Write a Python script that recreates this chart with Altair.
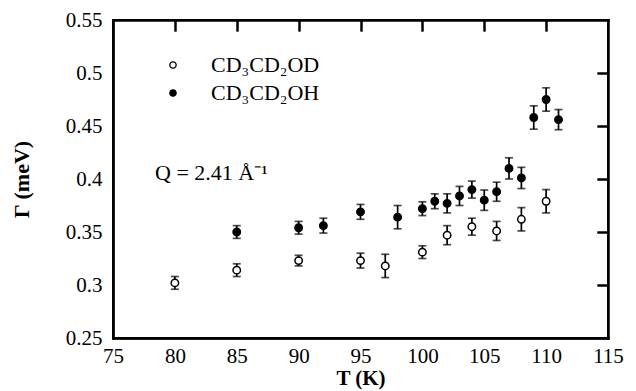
import altair as alt
import pandas as pd

# ---- data ----
series_names = ["CD₃CD₂OD", "CD₃CD₂OH"]

T_od = [80, 85, 90, 95, 97, 100, 102, 104, 106, 108, 110]
G_od = [0.302, 0.314, 0.323, 0.323, 0.318, 0.331, 0.347, 0.355, 0.351, 0.362, 0.379]
E_od = [0.006, 0.006, 0.005, 0.007, 0.011, 0.006, 0.009, 0.008, 0.009, 0.011, 0.011]

T_oh = [85, 90, 92, 95, 98, 100, 101, 102, 103, 104, 105, 106, 107, 108, 109, 110, 111]
G_oh = [0.350, 0.354, 0.356, 0.369, 0.364, 0.372, 0.379, 0.377, 0.384, 0.390,
        0.380, 0.388, 0.410, 0.401, 0.458, 0.475, 0.456]
E_oh = [0.006, 0.006, 0.007, 0.007, 0.011, 0.0065, 0.007, 0.009, 0.009, 0.008,
        0.0096, 0.009, 0.010, 0.010, 0.011, 0.011, 0.0095]

x_labels = [75, 80, 85, 90, 95, 100, 105, 110, 115]
y_labels = [0.25, 0.3, 0.35, 0.4, 0.45, 0.5, 0.55]
x_inner_ticks = [80, 85, 90, 95, 100, 105, 110]
y_inner_ticks = [0.3, 0.35, 0.4, 0.45, 0.5]
annotation = "Q = 2.41 Å⁻¹"

rows = []
for t, g, e in zip(T_od, G_od, E_od):
    rows.append({"T": t, "G": g, "lo": g - e, "hi": g + e, "series": series_names[0]})
for t, g, e in zip(T_oh, G_oh, E_oh):
    rows.append({"T": t, "G": g, "lo": g - e, "hi": g + e, "series": series_names[1]})
df = pd.DataFrame(rows)

W, H = 495, 318
x_ends = [x_labels[0], x_labels[-1]]
y_ends = [y_labels[0], y_labels[-1]]

FONT = "Liberation Serif"
xs = alt.Scale(domain=[75, 115], nice=False, zero=False)
ys = alt.Scale(domain=[0.25, 0.55], nice=False, zero=False)

base = alt.Chart(df)

errbars = base.mark_errorbar(ticks=True, size=8, thickness=1.7, color="black").encode(
    x=alt.X("T:Q", scale=xs, axis=alt.Axis(
        values=x_labels, title="T (K)", ticks=False, tickSize=0, grid=False,
        domain=True, domainColor="black", domainWidth=2,
        labelPadding=7, labelFontSize=21, titleFontSize=21, titleFontWeight="bold",
        titleY=40, titleBaseline="middle", labelFont=FONT, titleFont=FONT,
        labelColor="black", titleColor="black", labelFlush=False)),
    y=alt.Y("lo:Q", scale=ys, axis=alt.Axis(
        values=y_labels, format="~g", title="Γ (meV)", ticks=False, tickSize=0,
        grid=False, domain=True, domainColor="black", domainWidth=2,
        labelPadding=11, labelFontSize=21, titleFontSize=22,
        titleFontWeight="bold", titleX=-92, titleBaseline="middle", labelFont=FONT,
        titleFont=FONT, labelColor="black", titleColor="black", labelFlush=False)),
    y2="hi:Q",
)

points = base.mark_point(filled=True, shape="circle", size=55, stroke="black",
                         strokeWidth=1.5, opacity=1).encode(
    x=alt.X("T:Q", scale=xs, axis=None),
    y=alt.Y("G:Q", scale=ys, axis=None),
    fill=alt.Fill("series:N", scale=alt.Scale(domain=series_names, range=["white", "black"]),
                  legend=alt.Legend(title=None, orient="none", legendX=49, legendY=34,
                                    symbolSize=40, symbolStrokeColor="black",
                                    symbolStrokeWidth=1.3, labelFont=FONT, labelFontSize=22,
                                    labelColor="black",
                                    labelOffset=27, rowPadding=6, padding=0)),
)

tick_style = dict(labels=False, domain=False, grid=False, tickSize=11, tickWidth=2,
                  tickColor="black", offset=-11, title="")

inner_bl = base.mark_point(opacity=0).encode(
    x=alt.X("T:Q", scale=xs, axis=alt.Axis(values=x_inner_ticks, **tick_style)),
    y=alt.Y("G:Q", scale=ys, axis=alt.Axis(values=y_inner_ticks, **tick_style)),
)

inner_tr = base.mark_point(opacity=0).encode(
    x=alt.X("T:Q", scale=xs, axis=alt.Axis(orient="top", values=x_inner_ticks, **tick_style)),
    y=alt.Y("G:Q", scale=ys, axis=alt.Axis(orient="right", values=y_inner_ticks, **tick_style)),
)

# frame drawn with full-length axis ticks at the axis ends
frame = base.mark_point(opacity=0).encode(
    x=alt.X("T:Q", scale=xs, axis=alt.Axis(orient="top", values=x_ends, labels=False,
                                           domain=False, grid=False, tickSize=H, offset=-H,
                                           tickWidth=2.5, tickColor="black", tickCap="square",
                                           title="")),
    y=alt.Y("G:Q", scale=ys, axis=alt.Axis(orient="left", values=y_ends, labels=False,
                                           domain=False, grid=False, tickSize=W, offset=-W,
                                           tickWidth=2.5, tickColor="black", tickCap="square",
                                           title="")),
)

note = alt.Chart(pd.DataFrame({"txt": [annotation]})).mark_text(
    align="left", baseline="middle", font=FONT, fontSize=22, color="black"
).encode(x=alt.value(42), y=alt.value(153), text="txt:N")

chart = (
    alt.layer(errbars, points, inner_bl, inner_tr, frame, note)
    .resolve_axis(x="independent", y="independent")
    .resolve_scale(x="shared", y="shared")
    .properties(width=W, height=H,
                autosize=alt.AutoSizeParams(type="none"),
                padding={"left": 105, "top": 12, "right": 18, "bottom": 52},
                background="white")
    .configure_view(stroke="black", strokeWidth=2)
)

chart.save("out.html", embed_options={"renderer": "svg", "actions": False})
